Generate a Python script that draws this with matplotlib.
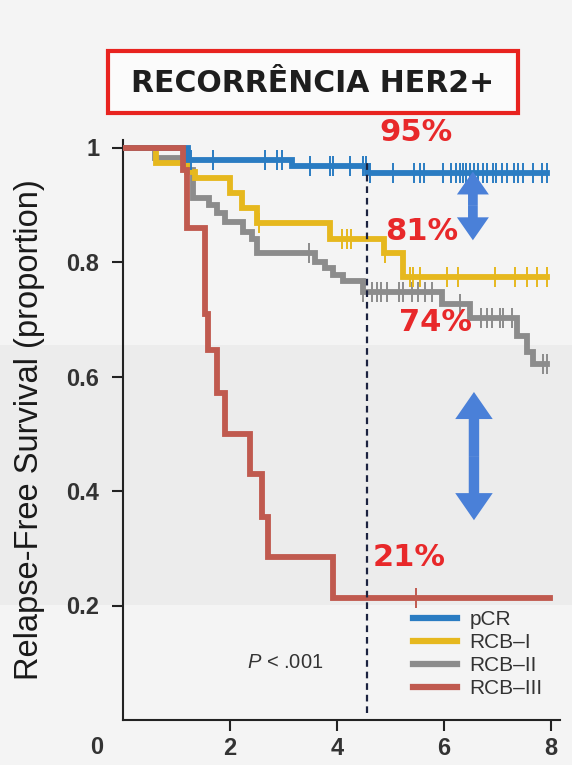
import numpy as np
import matplotlib
matplotlib.use('Agg')
import matplotlib.pyplot as plt
from matplotlib.patches import Rectangle, FancyArrowPatch
from matplotlib.lines import Line2D

plt.rcParams['font.family'] = ['Liberation Sans', 'DejaVu Sans']
plt.rcParams['mathtext.fontset'] = 'custom'
plt.rcParams['mathtext.it'] = 'Liberation Sans:italic'
plt.rcParams['mathtext.rm'] = 'Liberation Sans'

# ---------------- data ----------------
groups = ['pCR', 'RCB\u2013I', 'RCB\u2013II', 'RCB\u2013III']
colors = ['#2a7cc2', '#e6b81e', '#8c8c8c', '#c05a4f']

pcr_times = [0.0, 1.22, 3.15, 4.56]
pcr_surv = [1.0, 0.979, 0.967, 0.955]
pcr_end = 7.92
pcr_cens = [1.28, 1.69, 2.65, 2.87, 2.97, 3.50, 3.87, 3.93, 4.24, 4.49, 4.55, 4.62,
            5.05, 5.43, 5.55, 5.62, 5.98, 6.14, 6.23, 6.29, 6.36, 6.42, 6.48, 6.57,
            6.64, 6.73, 6.80, 6.92, 6.98, 7.08, 7.17, 7.30, 7.39, 7.48, 7.67, 7.83, 7.92]

rcb1_times = [0.0, 0.62, 1.19, 1.35, 2.0, 2.22, 2.5, 3.87, 4.87, 5.24]
rcb1_surv = [1.0, 0.973, 0.957, 0.946, 0.92, 0.894, 0.868, 0.84, 0.815, 0.774]
rcb1_end = 7.92
rcb1_cens = [2.55, 4.09, 4.18, 4.27, 4.90, 5.36, 5.42, 5.55, 6.05, 6.27, 6.95,
             7.33, 7.55, 7.73, 7.92]

rcb2_times = [0.0, 0.6, 1.19, 1.3, 1.6, 1.75, 1.91, 2.25, 2.41, 2.5, 3.59, 3.78,
              3.93, 4.12, 4.49, 5.96, 6.49, 7.36, 7.55, 7.67]
rcb2_surv = [1.0, 0.982, 0.96, 0.912, 0.90, 0.885, 0.870, 0.853, 0.841, 0.815,
             0.80, 0.789, 0.777, 0.766, 0.748, 0.727, 0.702, 0.670, 0.643, 0.622]
rcb2_end = 7.92
rcb2_cens = [3.48, 4.49, 4.65, 4.74, 4.83, 4.93, 5.15, 5.24, 5.40, 5.52, 5.64,
             5.77, 6.30, 6.70, 6.80, 6.89, 7.05, 7.11, 7.27, 7.85, 7.92]

rcb3_times = [0.0, 1.12, 1.2, 1.53, 1.59, 1.75, 1.91, 2.37, 2.59, 2.71, 3.93]
rcb3_surv = [1.0, 0.96, 0.86, 0.71, 0.646, 0.571, 0.50, 0.43, 0.355, 0.285, 0.213]
rcb3_end = 7.98
rcb3_cens = [5.47]

landmark_x = 4.57
pct_labels = ['95%', '81%', '74%', '21%']
pct_pos_x = [5.48, 5.59, 5.85, 5.34]
pct_pos_y = [1.027, 0.853, 0.695, 0.284]

x_ticks = [2, 4, 6, 8]
y_ticks = [0.2, 0.4, 0.6, 0.8, 1.0]
y_ticklabels = ['0.2', '0.4', '0.6', '0.8', '1']

title = 'RECORRÊNCIA HER2+'
ylabel = 'Relapse-Free Survival (proportion)'
p_text = r'$P$ < .001'

# ---------------- figure ----------------
W, H = 572, 765
fig = plt.figure(figsize=(W / 100, H / 100), dpi=100)
fig.patch.set_facecolor('#f4f4f4')

# subtle background band
fig.add_artist(Rectangle((0, 1 - 605 / H), 1, (605 - 345) / H, transform=fig.transFigure,
                         facecolor='#ececec', edgecolor='none', zorder=-10))

ax = fig.add_axes([123 / W, 1 - 720 / H, (560 - 123) / W, (720 - 140) / H])
ax.set_facecolor('none')
ax.set_xlim(0, (560 - 123) / 53.5)
ax.set_ylim(0, (720 - 140) / 572.5)

series = [
    (pcr_times, pcr_surv, pcr_end, pcr_cens, 4),
    (rcb1_times, rcb1_surv, rcb1_end, rcb1_cens, 3),
    (rcb2_times, rcb2_surv, rcb2_end, rcb2_cens, 2),
    (rcb3_times, rcb3_surv, rcb3_end, rcb3_cens, 5),
]
for (t, s, end, cens, z), col in zip(series, colors):
    xs = list(t) + [end]
    ys = list(s) + [s[-1]]
    ax.step(xs, ys, where='post', color=col, lw=4.2, zorder=z, solid_joinstyle='miter')
    idx = np.searchsorted(np.array(t), np.array(cens), side='right') - 1
    cy = np.array(s)[idx]
    ax.plot(cens, cy, linestyle='none', marker='|', markersize=15, mew=1.4,
            color=col, zorder=z)

ax.plot([landmark_x, landmark_x], [0.012, 0.98], color='#1c2340', lw=1.6,
        linestyle=(0, (3, 2.2)), zorder=6)

# percentage annotations
for lab, px, py in zip(pct_labels, pct_pos_x, pct_pos_y):
    ax.text(px, py, lab, color='#e8282a', fontsize=22, fontweight='bold',
            family='DejaVu Sans', ha='center', va='center', zorder=8, clip_on=False)

# double arrows
def double_arrow(x, y0, y1, hw, hl, tw):
    ym = (y0 + y1) / 2
    style = 'simple,head_length=%g,head_width=%g,tail_width=%g' % (hl, hw, tw)
    for yend in (y0, y1):
        a = FancyArrowPatch((x, ym), (x, yend), arrowstyle=style, mutation_scale=1,
                            shrinkA=0, shrinkB=0, facecolor='#4a80d8',
                            edgecolor='none', zorder=7)
        ax.add_patch(a)

double_arrow(6.54, 0.838, 0.958, 23, 16.5, 7)
double_arrow(6.56, 0.349, 0.573, 27, 19.5, 7.5)

ax.text((285 - 123) / 53.5, (720 - 662) / 572.5, p_text, fontsize=14.5,
        color='#333333', ha='center', va='center')

# axes styling
for sp in ['top', 'right']:
    ax.spines[sp].set_visible(False)
for sp in ['left', 'bottom']:
    ax.spines[sp].set_linewidth(1.5)
    ax.spines[sp].set_color('#222222')
ax.set_xticks(x_ticks)
ax.set_xticklabels([str(v) for v in x_ticks])
ax.set_yticks(y_ticks)
ax.set_yticklabels(y_ticklabels)
ax.tick_params(axis='both', direction='out', length=8, width=1.5, color='#222222',
               labelsize=17, labelcolor='#333333')
ax.tick_params(axis='x', pad=4)
ax.tick_params(axis='y', pad=9)
for lbl in ax.get_xticklabels() + ax.get_yticklabels():
    lbl.set_fontweight('bold')

fig.text(97 / W, 1 - 748 / H, '0', fontsize=17, fontweight='bold', color='#333333',
         ha='center', va='center')

ax.set_ylabel(ylabel, fontsize=23.5, color='#1a1a1a')
ax.yaxis.label.set_va('center')
ax.yaxis.set_label_coords((30 - 123) / (560 - 123), 0.5)

handles = [Line2D([0], [0], color=c, lw=4.5) for c in colors]
leg = ax.legend(handles, groups, loc='upper left', frameon=False, fontsize=15,
                bbox_to_anchor=(413 / W, 1 - 610 / H), bbox_transform=fig.transFigure,
                borderpad=0, borderaxespad=0, handlelength=2.1, handletextpad=0.6,
                labelspacing=0.2)
for txt in leg.get_texts():
    txt.set_color('#333333')

# title box
fig.add_artist(Rectangle((108 / W, 1 - 113 / H), (518 - 108) / W, (113 - 51) / H,
                         transform=fig.transFigure, facecolor='#fbfbfb',
                         edgecolor='#e8231f', lw=3))
fig.text(313 / W, 1 - 84 / H, title, fontsize=21.5, fontweight='bold',
         family='DejaVu Sans', color='#1e1e1e', ha='center', va='center')

fig.savefig('out.png', dpi=100, facecolor=fig.get_facecolor())
